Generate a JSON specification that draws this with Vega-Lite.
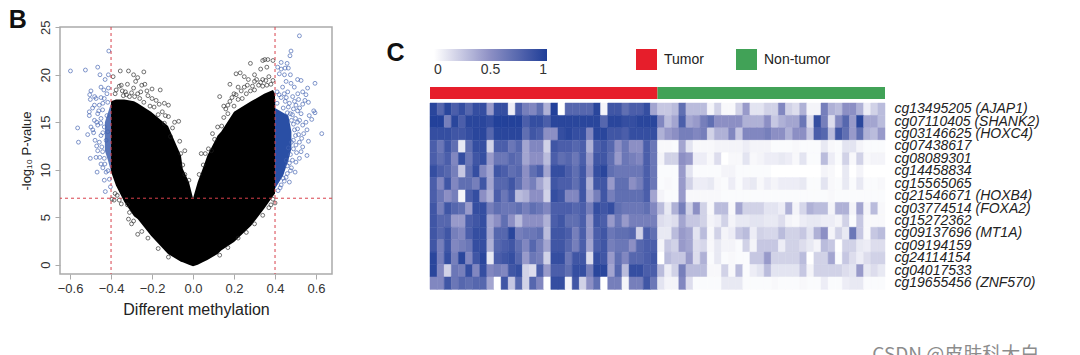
{"$schema":"https://vega.github.io/schema/vega-lite/v6.json","background":"white","padding":{"left":7,"top":6,"right":0,"bottom":0},"config":{"font":"Liberation Sans","view":{"stroke":null},"concat":{"spacing":0}},"title":{"text":"CSDN @皮肤科大白","orient":"bottom","anchor":"end","color":"#8c8c8c","fontSize":19,"font":"Noto Sans CJK SC","fontWeight":"normal","offset":28},
"bounds":"flush","spacing":98,
"datasets":{
"hull":[{"x":-0.4,"lo":9.8,"hi":17.2},{"x":-0.376,"lo":8.35,"hi":17.4},{"x":-0.335,"lo":6.6,"hi":17.4},{"x":-0.288,"lo":5.1,"hi":17.2},{"x":-0.27,"lo":4.8,"hi":17},{"x":-0.205,"lo":3.06,"hi":16.1},{"x":-0.122,"lo":1.13,"hi":14.6},{"x":-0.059,"lo":0.3,"hi":11.5},{"x":-0.05,"lo":0.25,"hi":10.1},{"x":-0.02,"lo":0,"hi":8.7},{"x":0,"lo":-0.17,"hi":7},{"x":0.023,"lo":0,"hi":8.7},{"x":0.047,"lo":0.25,"hi":10.1},{"x":0.07,"lo":0.5,"hi":11.5},{"x":0.12,"lo":1.13,"hi":13.6},{"x":0.137,"lo":1.5,"hi":14},{"x":0.2,"lo":2.4,"hi":16.1},{"x":0.283,"lo":4.1,"hi":17.2},{"x":0.347,"lo":5.9,"hi":18},{"x":0.39,"lo":7.2,"hi":18.4},{"x":0.4,"lo":7.5,"hi":18}],
"blueRight":[{"x":0.4,"lo":8,"hi":16.5},{"x":0.44,"lo":9.4,"hi":16},{"x":0.465,"lo":11,"hi":15.7},{"x":0.48,"lo":12.2,"hi":14}],
"blueLeft":[{"x":-0.43,"lo":12,"hi":15},{"x":-0.415,"lo":11,"hi":16},{"x":-0.4,"lo":9.8,"hi":17}],
"cuts":[{"xcut":-0.4},{"xcut":0.4}],
"blue":[{"x":0.519,"y":24.1},{"x":0.478,"y":22.5},{"x":0.473,"y":22},{"x":0.43,"y":21.3},{"x":0.459,"y":21.2},{"x":0.413,"y":20.8},{"x":0.43,"y":20.6},{"x":0.449,"y":20.7},{"x":0.465,"y":20.7},{"x":0.421,"y":20.1},{"x":0.446,"y":20},{"x":0.475,"y":20},{"x":0.51,"y":19.5},{"x":0.527,"y":19.4},{"x":0.595,"y":19.1},{"x":0.454,"y":19.3},{"x":0.478,"y":19.1},{"x":0.494,"y":18.7},{"x":0.559,"y":18.6},{"x":0.535,"y":18.2},{"x":0.437,"y":18.7},{"x":0.462,"y":18.2},{"x":0.511,"y":18},{"x":0.551,"y":17.9},{"x":0.486,"y":17.7},{"x":0.546,"y":17.3},{"x":0.563,"y":17.1},{"x":0.535,"y":16.9},{"x":0.502,"y":16.8},{"x":0.589,"y":16.2},{"x":0.595,"y":16},{"x":0.567,"y":15.7},{"x":0.527,"y":15.9},{"x":0.579,"y":15.3},{"x":0.551,"y":15},{"x":0.535,"y":14.7},{"x":0.556,"y":14.2},{"x":0.628,"y":13.8},{"x":0.54,"y":13.8},{"x":0.563,"y":13},{"x":0.519,"y":12.9},{"x":0.502,"y":12.6},{"x":0.535,"y":12.4},{"x":0.527,"y":11.9},{"x":0.556,"y":11.5},{"x":0.519,"y":11.2},{"x":0.502,"y":10.8},{"x":0.498,"y":9.75},{"x":0.475,"y":9.9},{"x":0.47,"y":8.7},{"x":0.454,"y":9.2},{"x":0.41,"y":18.2},{"x":0.43,"y":17.6},{"x":0.45,"y":17.2},{"x":0.47,"y":17},{"x":0.49,"y":16.4},{"x":0.51,"y":16.2},{"x":0.475,"y":15.9},{"x":0.5,"y":15.4},{"x":0.52,"y":15.2},{"x":0.49,"y":14.8},{"x":0.51,"y":14.3},{"x":0.53,"y":13.3},{"x":0.5,"y":13.6},{"x":0.48,"y":12.9},{"x":0.49,"y":12.2},{"x":0.475,"y":11.6},{"x":0.485,"y":11},{"x":0.46,"y":10.4},{"x":0.47,"y":10.7},{"x":0.445,"y":8.8},{"x":0.43,"y":8.4},{"x":0.415,"y":7.8},{"x":0.44,"y":16.5},{"x":0.46,"y":16},{"x":0.48,"y":15.2},{"x":0.465,"y":12.3},{"x":0.455,"y":11},{"x":0.41,"y":17},{"x":0.42,"y":17.9},{"x":0.445,"y":18},{"x":0.455,"y":17.6},{"x":0.465,"y":16.6},{"x":0.495,"y":17.2},{"x":0.515,"y":17.4},{"x":0.52,"y":16.5},{"x":0.485,"y":15.8},{"x":0.51,"y":15},{"x":0.495,"y":14.2},{"x":0.515,"y":13.7},{"x":0.49,"y":13.1},{"x":0.505,"y":11.8},{"x":0.48,"y":10.2},{"x":0.46,"y":9.6},{"x":0.44,"y":9.1},{"x":0.425,"y":8.1},{"x":-0.411,"y":22.5},{"x":-0.598,"y":20.4},{"x":-0.525,"y":20.5},{"x":-0.465,"y":20.8},{"x":-0.454,"y":20},{"x":-0.429,"y":19.5},{"x":-0.413,"y":20},{"x":-0.449,"y":18.7},{"x":-0.413,"y":18.6},{"x":-0.498,"y":18.3},{"x":-0.504,"y":17.9},{"x":-0.473,"y":17.5},{"x":-0.449,"y":17.6},{"x":-0.501,"y":17.4},{"x":-0.433,"y":17.5},{"x":-0.481,"y":16.8},{"x":-0.457,"y":16.8},{"x":-0.416,"y":17.1},{"x":-0.506,"y":16.1},{"x":-0.465,"y":15.9},{"x":-0.441,"y":16.3},{"x":-0.506,"y":15.7},{"x":-0.481,"y":15.2},{"x":-0.449,"y":15.4},{"x":-0.42,"y":15.7},{"x":-0.563,"y":14.4},{"x":-0.498,"y":14.5},{"x":-0.465,"y":14.7},{"x":-0.433,"y":14.5},{"x":-0.489,"y":14.2},{"x":-0.514,"y":13.7},{"x":-0.449,"y":13.6},{"x":-0.416,"y":14},{"x":-0.559,"y":12.9},{"x":-0.478,"y":13.1},{"x":-0.457,"y":12.9},{"x":-0.424,"y":13.1},{"x":-0.465,"y":12},{"x":-0.441,"y":11.9},{"x":-0.501,"y":11.2},{"x":-0.473,"y":11.3},{"x":-0.433,"y":11.2},{"x":-0.449,"y":10.6},{"x":-0.468,"y":9.75},{"x":-0.424,"y":9.75},{"x":-0.433,"y":8.9},{"x":-0.408,"y":9},{"x":-0.428,"y":7.7},{"x":-0.403,"y":8.2},{"x":-0.44,"y":17},{"x":-0.46,"y":16.2},{"x":-0.49,"y":16.5},{"x":-0.47,"y":15},{"x":-0.485,"y":13.9},{"x":-0.47,"y":12.5},{"x":-0.455,"y":11.3},{"x":-0.44,"y":10.2},{"x":-0.42,"y":18},{"x":-0.435,"y":18.4},{"x":-0.48,"y":17.7},{"x":-0.45,"y":14.9},{"x":-0.44,"y":13.9},{"x":-0.445,"y":12.4},{"x":-0.43,"y":10.6},{"x":-0.415,"y":9.9}],
"black":[{"x":-0.39,"y":19.8},{"x":-0.355,"y":20.4},{"x":-0.315,"y":20.4},{"x":-0.29,"y":20},{"x":-0.27,"y":19.7},{"x":-0.24,"y":20.3},{"x":-0.235,"y":19},{"x":-0.36,"y":18.8},{"x":-0.32,"y":19},{"x":-0.28,"y":19.3},{"x":-0.25,"y":18.9},{"x":-0.2,"y":18.5},{"x":-0.16,"y":18.4},{"x":-0.33,"y":18.2},{"x":-0.3,"y":18.1},{"x":-0.27,"y":18},{"x":-0.22,"y":17.8},{"x":-0.18,"y":17.3},{"x":-0.14,"y":17},{"x":-0.12,"y":16.8},{"x":-0.19,"y":16.6},{"x":-0.15,"y":16.1},{"x":-0.12,"y":15.6},{"x":-0.09,"y":15},{"x":-0.07,"y":15.1},{"x":-0.1,"y":14.4},{"x":-0.065,"y":13},{"x":-0.04,"y":12},{"x":-0.06,"y":11.7},{"x":-0.05,"y":10.5},{"x":-0.04,"y":9.5},{"x":-0.02,"y":8.9},{"x":-0.38,"y":18},{"x":-0.35,"y":18.9},{"x":-0.34,"y":17.8},{"x":-0.31,"y":17.7},{"x":-0.26,"y":17.5},{"x":-0.24,"y":17.1},{"x":-0.21,"y":16.7},{"x":-0.17,"y":15.8},{"x":-0.14,"y":14.9},{"x":-0.11,"y":13.5},{"x":-0.375,"y":18.4},{"x":-0.345,"y":18.3},{"x":-0.325,"y":17.9},{"x":-0.29,"y":18.6},{"x":-0.285,"y":17.7},{"x":-0.255,"y":18.2},{"x":-0.225,"y":18.3},{"x":-0.2,"y":17.5},{"x":-0.165,"y":16.9},{"x":-0.135,"y":15.7},{"x":0.03,"y":9.5},{"x":0.05,"y":10.5},{"x":0.04,"y":11.7},{"x":0.06,"y":11.7},{"x":0.09,"y":12},{"x":0.095,"y":13.8},{"x":0.12,"y":14.5},{"x":0.14,"y":14.6},{"x":0.13,"y":17.7},{"x":0.15,"y":16.7},{"x":0.17,"y":16.8},{"x":0.18,"y":19},{"x":0.21,"y":20.1},{"x":0.23,"y":20.2},{"x":0.25,"y":19.8},{"x":0.28,"y":21.2},{"x":0.3,"y":20},{"x":0.33,"y":20.6},{"x":0.34,"y":21.5},{"x":0.35,"y":21.6},{"x":0.36,"y":20.8},{"x":0.365,"y":21.6},{"x":0.39,"y":21.5},{"x":0.39,"y":19.4},{"x":0.37,"y":19.8},{"x":0.34,"y":19.5},{"x":0.3,"y":19.3},{"x":0.27,"y":19.5},{"x":0.25,"y":18.7},{"x":0.22,"y":18.7},{"x":0.2,"y":18},{"x":0.18,"y":17.2},{"x":0.16,"y":16.4},{"x":0.32,"y":18.9},{"x":0.38,"y":19},{"x":0.28,"y":18.3},{"x":0.24,"y":17.5},{"x":0.36,"y":18.9},{"x":0.26,"y":18},{"x":0.3,"y":18.4},{"x":0.34,"y":18.8},{"x":0.22,"y":17.4},{"x":0.2,"y":16.7},{"x":0.15,"y":15.5},{"x":0.17,"y":15.9},{"x":0.105,"y":13.2},{"x":0.075,"y":12.2},{"x":0.19,"y":17.6},{"x":0.21,"y":17.9},{"x":0.235,"y":18.3},{"x":0.265,"y":18.9},{"x":0.29,"y":18.8},{"x":0.31,"y":19.5},{"x":0.33,"y":19.2},{"x":0.355,"y":19.4},{"x":-0.395,"y":6.9},{"x":-0.385,"y":6.8},{"x":-0.36,"y":6.8},{"x":-0.37,"y":7.3},{"x":-0.35,"y":6.4},{"x":-0.32,"y":6.3},{"x":-0.31,"y":5.5},{"x":-0.315,"y":4.8},{"x":-0.3,"y":4.3},{"x":-0.29,"y":4.6},{"x":-0.27,"y":3.2},{"x":-0.25,"y":3.5},{"x":-0.38,"y":7.5},{"x":-0.22,"y":2.8},{"x":-0.17,"y":1.7},{"x":-0.12,"y":0.8},{"x":0.13,"y":1},{"x":0.17,"y":1.8},{"x":0.22,"y":2.8},{"x":0.26,"y":3.4},{"x":0.3,"y":4.3},{"x":0.34,"y":5.2},{"x":0.37,"y":6},{"x":0.38,"y":6.3},{"x":0.4,"y":6.5},{"x":0.39,"y":6.9}],
"genes":[{"r":1,"probe":"cg13495205 (AJAP1)"},{"r":2,"probe":"cg07110405 (SHANK2)"},{"r":3,"probe":"cg03146625 (HOXC4)"},{"r":4,"probe":"cg07438617"},{"r":5,"probe":"cg08089301"},{"r":6,"probe":"cg14458834"},{"r":7,"probe":"cg15565065"},{"r":8,"probe":"cg21546671 (HOXB4)"},{"r":9,"probe":"cg03774514 (FOXA2)"},{"r":10,"probe":"cg15272362"},{"r":11,"probe":"cg09137696 (MT1A)"},{"r":12,"probe":"cg09194159"},{"r":13,"probe":"cg24114154"},{"r":14,"probe":"cg04017533"},{"r":15,"probe":"cg19655456 (ZNF570)"}]
},
"hconcat":[
{"width":272,"height":247,"layer":[
{"data":{"name":"hull"},"mark":{"type":"area","color":"#000000","orient":"vertical"},"encoding":{"x":{"field":"x","type":"quantitative","title":"Different methylation","scale":{"domain":[-0.649,0.678],"nice":false,"zero":false},"axis":{"values":[-0.6,-0.4,-0.2,0,0.2,0.4,0.6],"format":".1f","title":"Different methylation","titleFontSize":16,"titleFontWeight":"normal","titleColor":"#222","titlePadding":6,"labelFontSize":13,"labelColor":"#333","labelPadding":3,"tickColor":"#aaa","tickSize":5,"domain":false,"grid":false}},"y":{"field":"lo","type":"quantitative","title":"-log₁₀ P-value","scale":{"domain":[-0.98,25.03],"nice":false,"zero":false},"axis":{"values":[0,5,10,15,20,25],"title":"-log₁₀ P-value","titleFontSize":13,"titleFontWeight":"normal","titleColor":"#222","titlePadding":6,"labelFontSize":13,"labelColor":"#333","labelAngle":-90,"labelPadding":3,"tickColor":"#aaa","tickSize":5,"domain":false,"grid":false}},"y2":{"field":"hi"}}},
{"data":{"name":"blueRight"},"mark":{"type":"area","color":"#2a4fa5","orient":"vertical"},"encoding":{"x":{"field":"x","type":"quantitative","title":"Different methylation"},"y":{"field":"lo","type":"quantitative","title":"-log₁₀ P-value"},"y2":{"field":"hi"}}},
{"data":{"name":"blueLeft"},"mark":{"type":"area","color":"#3d5fae","orient":"vertical","opacity":0.85},"encoding":{"x":{"field":"x","type":"quantitative","title":"Different methylation"},"y":{"field":"lo","type":"quantitative","title":"-log₁₀ P-value"},"y2":{"field":"hi"}}},
{"data":{"name":"blue"},"mark":{"type":"point","filled":false,"color":"#4565b2","size":15,"strokeWidth":0.8,"opacity":0.85},"encoding":{"x":{"field":"x","type":"quantitative","title":"Different methylation"},"y":{"field":"y","type":"quantitative","title":"-log₁₀ P-value"}}},
{"data":{"name":"black"},"mark":{"type":"point","filled":false,"color":"#222222","size":15,"strokeWidth":0.8,"opacity":0.8},"encoding":{"x":{"field":"x","type":"quantitative","title":"Different methylation"},"y":{"field":"y","type":"quantitative","title":"-log₁₀ P-value"}}},
{"data":{"name":"cuts"},"mark":{"type":"rule","color":"#d8404c","strokeDash":[3,3],"strokeWidth":1},"encoding":{"x":{"field":"xcut","type":"quantitative","title":"Different methylation"}}},
{"data":{"values":[{"ycut":7}]},"mark":{"type":"rule","color":"#d8404c","strokeDash":[3,3],"strokeWidth":1},"encoding":{"y":{"field":"ycut","type":"quantitative","title":"-log₁₀ P-value"}}},
{"data":{"values":[{"label":"B"}]},"mark":{"type":"text","fontSize":25,"fontWeight":"bold","color":"#111"},"encoding":{"text":{"field":"label"},"x":{"datum":-0.855,"type":"quantitative","title":"Different methylation"},"y":{"datum":25.8,"type":"quantitative","title":"-log₁₀ P-value"}}}
],"view":{"stroke":"#aaaaaa","strokeWidth":1.5}},
{"bounds":"flush","spacing":4,"vconcat":[
{"width":455,"height":72,"layer":[
{"data":{"values":[{"c":"a","group":"Tumor"},{"c":"b","group":"Non-tumor"}]},"mark":{"type":"rect"},"encoding":{"x":{"field":"c","type":"ordinal","axis":null,"scale":{"paddingInner":0,"paddingOuter":0}},"y":{"datum":0,"type":"quantitative","scale":{"domain":[0,72]},"axis":null},"y2":{"datum":12},"color":{"field":"group","type":"nominal","scale":{"domain":["Tumor","Non-tumor"],"range":["#e61e2b","#41a257"]},"legend":{"title":null,"orient":"none","legendX":206,"legendY":22,"direction":"horizontal","columns":2,"symbolType":"square","symbolSize":441,"symbolStrokeWidth":0,"symbolOpacity":1,"labelFontSize":14,"labelColor":"#222","labelOffset":7,"columnPadding":32}}}},
{"data":{"values":[{"label":"C"}]},"mark":{"type":"text","fontSize":25,"fontWeight":"bold","color":"#111","dx":-262},"encoding":{"text":{"field":"label"},"y":{"datum":46,"type":"quantitative","scale":{"domain":[0,72]},"axis":null}}}
]},
{"width":455,"height":186.4,"data":{"values":[
{"r":1,"c":1,"v":0.95},{"r":1,"c":2,"v":0.75},{"r":1,"c":3,"v":0.95},{"r":1,"c":4,"v":0.8},{"r":1,"c":5,"v":0.9},{"r":1,"c":6,"v":0.75},{"r":1,"c":7,"v":0.9},{"r":1,"c":8,"v":0.9},{"r":1,"c":9,"v":0.45},{"r":1,"c":10,"v":0.9},{"r":1,"c":11,"v":0.9},{"r":1,"c":12,"v":0.08},{"r":1,"c":13,"v":0.8},{"r":1,"c":14,"v":0.6},{"r":1,"c":15,"v":0.55},{"r":1,"c":16,"v":0.7},{"r":1,"c":17,"v":0.35},{"r":1,"c":18,"v":0.98},{"r":1,"c":19,"v":0},{"r":1,"c":20,"v":0.75},{"r":1,"c":21,"v":0.75},{"r":1,"c":22,"v":0.75},{"r":1,"c":23,"v":0.75},{"r":1,"c":24,"v":0.95},{"r":1,"c":25,"v":0.05},{"r":1,"c":26,"v":0.85},{"r":1,"c":27,"v":0.85},{"r":1,"c":28,"v":0.7},{"r":1,"c":29,"v":0.8},{"r":1,"c":30,"v":0.8},{"r":1,"c":31,"v":0.9},{"r":1,"c":32,"v":0.4},
{"r":1,"c":33,"v":0.25},{"r":1,"c":34,"v":0.25},{"r":1,"c":35,"v":0.3},{"r":1,"c":36,"v":0.7},{"r":1,"c":37,"v":0.3},{"r":1,"c":38,"v":0.3},{"r":1,"c":39,"v":0.3},{"r":1,"c":40,"v":0.05},{"r":1,"c":41,"v":0.2},{"r":1,"c":42,"v":0.03},{"r":1,"c":43,"v":0.03},{"r":1,"c":44,"v":0.2},{"r":1,"c":45,"v":0.45},{"r":1,"c":46,"v":0.12},{"r":1,"c":47,"v":0.12},{"r":1,"c":48,"v":0.2},{"r":1,"c":49,"v":0.2},{"r":1,"c":50,"v":0.55},{"r":1,"c":51,"v":0.2},{"r":1,"c":52,"v":0.15},{"r":1,"c":53,"v":0.35},{"r":1,"c":54,"v":0.05},{"r":1,"c":55,"v":0.05},{"r":1,"c":56,"v":0.6},{"r":1,"c":57,"v":0.35},{"r":1,"c":58,"v":0.3},{"r":1,"c":59,"v":0.5},{"r":1,"c":60,"v":0.5},{"r":1,"c":61,"v":0.35},{"r":1,"c":62,"v":0.08},{"r":1,"c":63,"v":0.2},{"r":1,"c":64,"v":0.3},
{"r":2,"c":1,"v":0.98},{"r":2,"c":2,"v":0.98},{"r":2,"c":3,"v":0.6},{"r":2,"c":4,"v":0.95},{"r":2,"c":5,"v":0.8},{"r":2,"c":6,"v":0.95},{"r":2,"c":7,"v":0.95},{"r":2,"c":8,"v":0.95},{"r":2,"c":9,"v":0.9},{"r":2,"c":10,"v":0.98},{"r":2,"c":11,"v":0.98},{"r":2,"c":12,"v":0.98},{"r":2,"c":13,"v":0.98},{"r":2,"c":14,"v":0.8},{"r":2,"c":15,"v":0.9},{"r":2,"c":16,"v":0.9},{"r":2,"c":17,"v":0.8},{"r":2,"c":18,"v":0.95},{"r":2,"c":19,"v":0.95},{"r":2,"c":20,"v":0.95},{"r":2,"c":21,"v":0.95},{"r":2,"c":22,"v":0.95},{"r":2,"c":23,"v":0.95},{"r":2,"c":24,"v":0.95},{"r":2,"c":25,"v":0.75},{"r":2,"c":26,"v":0.95},{"r":2,"c":27,"v":0.95},{"r":2,"c":28,"v":0.9},{"r":2,"c":29,"v":0.9},{"r":2,"c":30,"v":0.95},{"r":2,"c":31,"v":0.95},{"r":2,"c":32,"v":0.95},
{"r":2,"c":33,"v":0.55},{"r":2,"c":34,"v":0.3},{"r":2,"c":35,"v":0.4},{"r":2,"c":36,"v":0.8},{"r":2,"c":37,"v":0.4},{"r":2,"c":38,"v":0.45},{"r":2,"c":39,"v":0.6},{"r":2,"c":40,"v":0.7},{"r":2,"c":41,"v":0.5},{"r":2,"c":42,"v":0.5},{"r":2,"c":43,"v":0.5},{"r":2,"c":44,"v":0.5},{"r":2,"c":45,"v":0.35},{"r":2,"c":46,"v":0.35},{"r":2,"c":47,"v":0.35},{"r":2,"c":48,"v":0.5},{"r":2,"c":49,"v":0.25},{"r":2,"c":50,"v":0.35},{"r":2,"c":51,"v":0.4},{"r":2,"c":52,"v":0.4},{"r":2,"c":53,"v":0.65},{"r":2,"c":54,"v":0.15},{"r":2,"c":55,"v":0.9},{"r":2,"c":56,"v":0.6},{"r":2,"c":57,"v":0.15},{"r":2,"c":58,"v":0.55},{"r":2,"c":59,"v":0.75},{"r":2,"c":60,"v":0.45},{"r":2,"c":61,"v":0.95},{"r":2,"c":62,"v":0.4},{"r":2,"c":63,"v":0.4},{"r":2,"c":64,"v":0.3},
{"r":3,"c":1,"v":0.9},{"r":3,"c":2,"v":0.9},{"r":3,"c":3,"v":0.9},{"r":3,"c":4,"v":0.85},{"r":3,"c":5,"v":0.85},{"r":3,"c":6,"v":0.9},{"r":3,"c":7,"v":0.95},{"r":3,"c":8,"v":0.95},{"r":3,"c":9,"v":0.75},{"r":3,"c":10,"v":0.95},{"r":3,"c":11,"v":0.95},{"r":3,"c":12,"v":0.95},{"r":3,"c":13,"v":0.95},{"r":3,"c":14,"v":0.7},{"r":3,"c":15,"v":0.85},{"r":3,"c":16,"v":0.8},{"r":3,"c":17,"v":0.5},{"r":3,"c":18,"v":0.5},{"r":3,"c":19,"v":0.9},{"r":3,"c":20,"v":0.95},{"r":3,"c":21,"v":0.9},{"r":3,"c":22,"v":0.9},{"r":3,"c":23,"v":0.55},{"r":3,"c":24,"v":0.95},{"r":3,"c":25,"v":0.95},{"r":3,"c":26,"v":0.85},{"r":3,"c":27,"v":0.85},{"r":3,"c":28,"v":0.8},{"r":3,"c":29,"v":0.9},{"r":3,"c":30,"v":0.9},{"r":3,"c":31,"v":0.9},{"r":3,"c":32,"v":0.9},
{"r":3,"c":33,"v":0.35},{"r":3,"c":34,"v":0.45},{"r":3,"c":35,"v":0.5},{"r":3,"c":36,"v":0.6},{"r":3,"c":37,"v":0.6},{"r":3,"c":38,"v":0.55},{"r":3,"c":39,"v":0.6},{"r":3,"c":40,"v":0.2},{"r":3,"c":41,"v":0.35},{"r":3,"c":42,"v":0.35},{"r":3,"c":43,"v":0.55},{"r":3,"c":44,"v":0.25},{"r":3,"c":45,"v":0.55},{"r":3,"c":46,"v":0.55},{"r":3,"c":47,"v":0.55},{"r":3,"c":48,"v":0.6},{"r":3,"c":49,"v":0.5},{"r":3,"c":50,"v":0.5},{"r":3,"c":51,"v":0.35},{"r":3,"c":52,"v":0.5},{"r":3,"c":53,"v":0.5},{"r":3,"c":54,"v":0.25},{"r":3,"c":55,"v":0.8},{"r":3,"c":56,"v":0.75},{"r":3,"c":57,"v":0.3},{"r":3,"c":58,"v":0.85},{"r":3,"c":59,"v":0.7},{"r":3,"c":60,"v":0.45},{"r":3,"c":61,"v":0.7},{"r":3,"c":62,"v":0.35},{"r":3,"c":63,"v":0.3},{"r":3,"c":64,"v":0.45},
{"r":4,"c":1,"v":0.8},{"r":4,"c":2,"v":0.65},{"r":4,"c":3,"v":0.85},{"r":4,"c":4,"v":0.7},{"r":4,"c":5,"v":0.1},{"r":4,"c":6,"v":0.7},{"r":4,"c":7,"v":0.9},{"r":4,"c":8,"v":0.9},{"r":4,"c":9,"v":0.2},{"r":4,"c":10,"v":0.8},{"r":4,"c":11,"v":0.8},{"r":4,"c":12,"v":0.65},{"r":4,"c":13,"v":0.75},{"r":4,"c":14,"v":0.4},{"r":4,"c":15,"v":0.55},{"r":4,"c":16,"v":0.55},{"r":4,"c":17,"v":0.2},{"r":4,"c":18,"v":0.85},{"r":4,"c":19,"v":0.8},{"r":4,"c":20,"v":0.8},{"r":4,"c":21,"v":0.75},{"r":4,"c":22,"v":0.8},{"r":4,"c":23,"v":0.35},{"r":4,"c":24,"v":0.8},{"r":4,"c":25,"v":0.85},{"r":4,"c":26,"v":0.75},{"r":4,"c":27,"v":0.5},{"r":4,"c":28,"v":0.65},{"r":4,"c":29,"v":0.5},{"r":4,"c":30,"v":0.5},{"r":4,"c":31,"v":0.8},{"r":4,"c":32,"v":0.65},
{"r":4,"c":33,"v":0.03},{"r":4,"c":34,"v":0.03},{"r":4,"c":35,"v":0.02},{"r":4,"c":36,"v":0.4},{"r":4,"c":37,"v":0.12},{"r":4,"c":38,"v":0.03},{"r":4,"c":39,"v":0.03},{"r":4,"c":40,"v":0.03},{"r":4,"c":41,"v":0.05},{"r":4,"c":42,"v":0.05},{"r":4,"c":43,"v":0.05},{"r":4,"c":44,"v":0.05},{"r":4,"c":45,"v":0.08},{"r":4,"c":46,"v":0.05},{"r":4,"c":47,"v":0.05},{"r":4,"c":48,"v":0.05},{"r":4,"c":49,"v":0.02},{"r":4,"c":50,"v":0.02},{"r":4,"c":51,"v":0.02},{"r":4,"c":52,"v":0.03},{"r":4,"c":53,"v":0.02},{"r":4,"c":54,"v":0.02},{"r":4,"c":55,"v":0.02},{"r":4,"c":56,"v":0.1},{"r":4,"c":57,"v":0.03},{"r":4,"c":58,"v":0.02},{"r":4,"c":59,"v":0.12},{"r":4,"c":60,"v":0.12},{"r":4,"c":61,"v":0.05},{"r":4,"c":62,"v":0.02},{"r":4,"c":63,"v":0.02},{"r":4,"c":64,"v":0.02},
{"r":5,"c":1,"v":0.8},{"r":5,"c":2,"v":0.7},{"r":5,"c":3,"v":0.8},{"r":5,"c":4,"v":0.55},{"r":5,"c":5,"v":0.9},{"r":5,"c":6,"v":0.65},{"r":5,"c":7,"v":0.85},{"r":5,"c":8,"v":0.9},{"r":5,"c":9,"v":0.45},{"r":5,"c":10,"v":0.65},{"r":5,"c":11,"v":0.65},{"r":5,"c":12,"v":0.75},{"r":5,"c":13,"v":0.7},{"r":5,"c":14,"v":0.4},{"r":5,"c":15,"v":0.5},{"r":5,"c":16,"v":0.5},{"r":5,"c":17,"v":0.3},{"r":5,"c":18,"v":0.8},{"r":5,"c":19,"v":0.7},{"r":5,"c":20,"v":0.75},{"r":5,"c":21,"v":0.65},{"r":5,"c":22,"v":0.8},{"r":5,"c":23,"v":0.45},{"r":5,"c":24,"v":0.85},{"r":5,"c":25,"v":0.85},{"r":5,"c":26,"v":0.7},{"r":5,"c":27,"v":0.45},{"r":5,"c":28,"v":0.65},{"r":5,"c":29,"v":0.6},{"r":5,"c":30,"v":0.55},{"r":5,"c":31,"v":0.8},{"r":5,"c":32,"v":0.65},
{"r":5,"c":33,"v":0.05},{"r":5,"c":34,"v":0.2},{"r":5,"c":35,"v":0.2},{"r":5,"c":36,"v":0.5},{"r":5,"c":37,"v":0.45},{"r":5,"c":38,"v":0.08},{"r":5,"c":39,"v":0.08},{"r":5,"c":40,"v":0.03},{"r":5,"c":41,"v":0.15},{"r":5,"c":42,"v":0},{"r":5,"c":43,"v":0.03},{"r":5,"c":44,"v":0.03},{"r":5,"c":45,"v":0.12},{"r":5,"c":46,"v":0.03},{"r":5,"c":47,"v":0.05},{"r":5,"c":48,"v":0.08},{"r":5,"c":49,"v":0.08},{"r":5,"c":50,"v":0.1},{"r":5,"c":51,"v":0.08},{"r":5,"c":52,"v":0.03},{"r":5,"c":53,"v":0.12},{"r":5,"c":54,"v":0.02},{"r":5,"c":55,"v":0.02},{"r":5,"c":56,"v":0.3},{"r":5,"c":57,"v":0.08},{"r":5,"c":58,"v":0.02},{"r":5,"c":59,"v":0.2},{"r":5,"c":60,"v":0.03},{"r":5,"c":61,"v":0.2},{"r":5,"c":62,"v":0.03},{"r":5,"c":63,"v":0.05},{"r":5,"c":64,"v":0.05},
{"r":6,"c":1,"v":0.9},{"r":6,"c":2,"v":0.8},{"r":6,"c":3,"v":0.75},{"r":6,"c":4,"v":0.6},{"r":6,"c":5,"v":0.25},{"r":6,"c":6,"v":0.7},{"r":6,"c":7,"v":0.9},{"r":6,"c":8,"v":0.55},{"r":6,"c":9,"v":0.4},{"r":6,"c":10,"v":0.85},{"r":6,"c":11,"v":0.8},{"r":6,"c":12,"v":0.7},{"r":6,"c":13,"v":0.75},{"r":6,"c":14,"v":0.5},{"r":6,"c":15,"v":0.7},{"r":6,"c":16,"v":0.8},{"r":6,"c":17,"v":0.4},{"r":6,"c":18,"v":0.9},{"r":6,"c":19,"v":0.9},{"r":6,"c":20,"v":0.8},{"r":6,"c":21,"v":0.7},{"r":6,"c":22,"v":0.85},{"r":6,"c":23,"v":0.5},{"r":6,"c":24,"v":0.9},{"r":6,"c":25,"v":0.95},{"r":6,"c":26,"v":0.7},{"r":6,"c":27,"v":0.65},{"r":6,"c":28,"v":0.65},{"r":6,"c":29,"v":0.65},{"r":6,"c":30,"v":0.65},{"r":6,"c":31,"v":0.8},{"r":6,"c":32,"v":0.65},
{"r":6,"c":33,"v":0.02},{"r":6,"c":34,"v":0.02},{"r":6,"c":35,"v":0.02},{"r":6,"c":36,"v":0.45},{"r":6,"c":37,"v":0.12},{"r":6,"c":38,"v":0.02},{"r":6,"c":39,"v":0.02},{"r":6,"c":40,"v":0.02},{"r":6,"c":41,"v":0.02},{"r":6,"c":42,"v":0.05},{"r":6,"c":43,"v":0.05},{"r":6,"c":44,"v":0.02},{"r":6,"c":45,"v":0.02},{"r":6,"c":46,"v":0.02},{"r":6,"c":47,"v":0.02},{"r":6,"c":48,"v":0.02},{"r":6,"c":49,"v":0},{"r":6,"c":50,"v":0},{"r":6,"c":51,"v":0},{"r":6,"c":52,"v":0},{"r":6,"c":53,"v":0},{"r":6,"c":54,"v":0},{"r":6,"c":55,"v":0},{"r":6,"c":56,"v":0.05},{"r":6,"c":57,"v":0.03},{"r":6,"c":58,"v":0},{"r":6,"c":59,"v":0.1},{"r":6,"c":60,"v":0},{"r":6,"c":61,"v":0.05},{"r":6,"c":62,"v":0},{"r":6,"c":63,"v":0},{"r":6,"c":64,"v":0},
{"r":7,"c":1,"v":0.8},{"r":7,"c":2,"v":0.55},{"r":7,"c":3,"v":0.85},{"r":7,"c":4,"v":0.55},{"r":7,"c":5,"v":0.7},{"r":7,"c":6,"v":0.7},{"r":7,"c":7,"v":0.6},{"r":7,"c":8,"v":0.85},{"r":7,"c":9,"v":0.4},{"r":7,"c":10,"v":0.75},{"r":7,"c":11,"v":0.75},{"r":7,"c":12,"v":0.85},{"r":7,"c":13,"v":0.7},{"r":7,"c":14,"v":0.5},{"r":7,"c":15,"v":0.6},{"r":7,"c":16,"v":0.4},{"r":7,"c":17,"v":0.25},{"r":7,"c":18,"v":0.85},{"r":7,"c":19,"v":0.8},{"r":7,"c":20,"v":0.8},{"r":7,"c":21,"v":0.7},{"r":7,"c":22,"v":0.85},{"r":7,"c":23,"v":0.35},{"r":7,"c":24,"v":0.85},{"r":7,"c":25,"v":0.85},{"r":7,"c":26,"v":0.45},{"r":7,"c":27,"v":0.7},{"r":7,"c":28,"v":0.7},{"r":7,"c":29,"v":0.5},{"r":7,"c":30,"v":0.6},{"r":7,"c":31,"v":0.8},{"r":7,"c":32,"v":0.65},
{"r":7,"c":33,"v":0.02},{"r":7,"c":34,"v":0.03},{"r":7,"c":35,"v":0.02},{"r":7,"c":36,"v":0.45},{"r":7,"c":37,"v":0.2},{"r":7,"c":38,"v":0.08},{"r":7,"c":39,"v":0.08},{"r":7,"c":40,"v":0.1},{"r":7,"c":41,"v":0.03},{"r":7,"c":42,"v":0.02},{"r":7,"c":43,"v":0.08},{"r":7,"c":44,"v":0.02},{"r":7,"c":45,"v":0.08},{"r":7,"c":46,"v":0.1},{"r":7,"c":47,"v":0.03},{"r":7,"c":48,"v":0.08},{"r":7,"c":49,"v":0.05},{"r":7,"c":50,"v":0.08},{"r":7,"c":51,"v":0.08},{"r":7,"c":52,"v":0.08},{"r":7,"c":53,"v":0.1},{"r":7,"c":54,"v":0.02},{"r":7,"c":55,"v":0.02},{"r":7,"c":56,"v":0.12},{"r":7,"c":57,"v":0.03},{"r":7,"c":58,"v":0.02},{"r":7,"c":59,"v":0.1},{"r":7,"c":60,"v":0.02},{"r":7,"c":61,"v":0.1},{"r":7,"c":62,"v":0.02},{"r":7,"c":63,"v":0.02},{"r":7,"c":64,"v":0.03},
{"r":8,"c":1,"v":0.8},{"r":8,"c":2,"v":0.65},{"r":8,"c":3,"v":0.5},{"r":8,"c":4,"v":0.6},{"r":8,"c":5,"v":0.05},{"r":8,"c":6,"v":0.8},{"r":8,"c":7,"v":0.9},{"r":8,"c":8,"v":0.5},{"r":8,"c":9,"v":0.35},{"r":8,"c":10,"v":0.8},{"r":8,"c":11,"v":0.65},{"r":8,"c":12,"v":0.8},{"r":8,"c":13,"v":0.3},{"r":8,"c":14,"v":0.35},{"r":8,"c":15,"v":0.5},{"r":8,"c":16,"v":0.5},{"r":8,"c":17,"v":0.2},{"r":8,"c":18,"v":0.9},{"r":8,"c":19,"v":0.85},{"r":8,"c":20,"v":0.55},{"r":8,"c":21,"v":0.55},{"r":8,"c":22,"v":0.85},{"r":8,"c":23,"v":0.4},{"r":8,"c":24,"v":0.6},{"r":8,"c":25,"v":0.85},{"r":8,"c":26,"v":0.6},{"r":8,"c":27,"v":0.7},{"r":8,"c":28,"v":0.7},{"r":8,"c":29,"v":0.7},{"r":8,"c":30,"v":0.7},{"r":8,"c":31,"v":0.8},{"r":8,"c":32,"v":0.4},
{"r":8,"c":33,"v":0.05},{"r":8,"c":34,"v":0.02},{"r":8,"c":35,"v":0.02},{"r":8,"c":36,"v":0.45},{"r":8,"c":37,"v":0.03},{"r":8,"c":38,"v":0.03},{"r":8,"c":39,"v":0.03},{"r":8,"c":40,"v":0.03},{"r":8,"c":41,"v":0.03},{"r":8,"c":42,"v":0.02},{"r":8,"c":43,"v":0.02},{"r":8,"c":44,"v":0.02},{"r":8,"c":45,"v":0.02},{"r":8,"c":46,"v":0.02},{"r":8,"c":47,"v":0.02},{"r":8,"c":48,"v":0.02},{"r":8,"c":49,"v":0.02},{"r":8,"c":50,"v":0.02},{"r":8,"c":51,"v":0.02},{"r":8,"c":52,"v":0.02},{"r":8,"c":53,"v":0.02},{"r":8,"c":54,"v":0.02},{"r":8,"c":55,"v":0.02},{"r":8,"c":56,"v":0.02},{"r":8,"c":57,"v":0.03},{"r":8,"c":58,"v":0.02},{"r":8,"c":59,"v":0.02},{"r":8,"c":60,"v":0.02},{"r":8,"c":61,"v":0.02},{"r":8,"c":62,"v":0.02},{"r":8,"c":63,"v":0.02},{"r":8,"c":64,"v":0.02},
{"r":9,"c":1,"v":0.85},{"r":9,"c":2,"v":0.6},{"r":9,"c":3,"v":0.85},{"r":9,"c":4,"v":0.75},{"r":9,"c":5,"v":0.7},{"r":9,"c":6,"v":0.45},{"r":9,"c":7,"v":0.9},{"r":9,"c":8,"v":0.9},{"r":9,"c":9,"v":0.6},{"r":9,"c":10,"v":0.7},{"r":9,"c":11,"v":0.65},{"r":9,"c":12,"v":0.65},{"r":9,"c":13,"v":0.7},{"r":9,"c":14,"v":0.6},{"r":9,"c":15,"v":0.7},{"r":9,"c":16,"v":0.65},{"r":9,"c":17,"v":0.55},{"r":9,"c":18,"v":0.8},{"r":9,"c":19,"v":0.8},{"r":9,"c":20,"v":0.8},{"r":9,"c":21,"v":0.75},{"r":9,"c":22,"v":0.8},{"r":9,"c":23,"v":0.6},{"r":9,"c":24,"v":0.9},{"r":9,"c":25,"v":0.85},{"r":9,"c":26,"v":0.9},{"r":9,"c":27,"v":0.7},{"r":9,"c":28,"v":0.65},{"r":9,"c":29,"v":0.65},{"r":9,"c":30,"v":0.65},{"r":9,"c":31,"v":0.7},{"r":9,"c":32,"v":0.55},
{"r":9,"c":33,"v":0.3},{"r":9,"c":34,"v":0.1},{"r":9,"c":35,"v":0.35},{"r":9,"c":36,"v":0.6},{"r":9,"c":37,"v":0.2},{"r":9,"c":38,"v":0.5},{"r":9,"c":39,"v":0.2},{"r":9,"c":40,"v":0.03},{"r":9,"c":41,"v":0.3},{"r":9,"c":42,"v":0.3},{"r":9,"c":43,"v":0.03},{"r":9,"c":44,"v":0.4},{"r":9,"c":45,"v":0.2},{"r":9,"c":46,"v":0.2},{"r":9,"c":47,"v":0.2},{"r":9,"c":48,"v":0.12},{"r":9,"c":49,"v":0.12},{"r":9,"c":50,"v":0.08},{"r":9,"c":51,"v":0.35},{"r":9,"c":52,"v":0.05},{"r":9,"c":53,"v":0.18},{"r":9,"c":54,"v":0.35},{"r":9,"c":55,"v":0.3},{"r":9,"c":56,"v":0.3},{"r":9,"c":57,"v":0.05},{"r":9,"c":58,"v":0.35},{"r":9,"c":59,"v":0.35},{"r":9,"c":60,"v":0.05},{"r":9,"c":61,"v":0.4},{"r":9,"c":62,"v":0.05},{"r":9,"c":63,"v":0.3},{"r":9,"c":64,"v":0.03},
{"r":10,"c":1,"v":0.85},{"r":10,"c":2,"v":0.75},{"r":10,"c":3,"v":0.75},{"r":10,"c":4,"v":0.45},{"r":10,"c":5,"v":0.45},{"r":10,"c":6,"v":0.8},{"r":10,"c":7,"v":0.85},{"r":10,"c":8,"v":0.9},{"r":10,"c":9,"v":0.4},{"r":10,"c":10,"v":0.5},{"r":10,"c":11,"v":0.7},{"r":10,"c":12,"v":0.5},{"r":10,"c":13,"v":0.3},{"r":10,"c":14,"v":0.5},{"r":10,"c":15,"v":0.5},{"r":10,"c":16,"v":0.5},{"r":10,"c":17,"v":0.35},{"r":10,"c":18,"v":0.8},{"r":10,"c":19,"v":0.85},{"r":10,"c":20,"v":0.7},{"r":10,"c":21,"v":0.7},{"r":10,"c":22,"v":0.8},{"r":10,"c":23,"v":0.45},{"r":10,"c":24,"v":0.85},{"r":10,"c":25,"v":0.8},{"r":10,"c":26,"v":0.45},{"r":10,"c":27,"v":0.65},{"r":10,"c":28,"v":0.45},{"r":10,"c":29,"v":0.6},{"r":10,"c":30,"v":0.6},{"r":10,"c":31,"v":0.6},{"r":10,"c":32,"v":0.6},
{"r":10,"c":33,"v":0.15},{"r":10,"c":34,"v":0.12},{"r":10,"c":35,"v":0.15},{"r":10,"c":36,"v":0.4},{"r":10,"c":37,"v":0.25},{"r":10,"c":38,"v":0.25},{"r":10,"c":39,"v":0.2},{"r":10,"c":40,"v":0.05},{"r":10,"c":41,"v":0.08},{"r":10,"c":42,"v":0.2},{"r":10,"c":43,"v":0.05},{"r":10,"c":44,"v":0.1},{"r":10,"c":45,"v":0.1},{"r":10,"c":46,"v":0.12},{"r":10,"c":47,"v":0.12},{"r":10,"c":48,"v":0.1},{"r":10,"c":49,"v":0.1},{"r":10,"c":50,"v":0.15},{"r":10,"c":51,"v":0.05},{"r":10,"c":52,"v":0.03},{"r":10,"c":53,"v":0.08},{"r":10,"c":54,"v":0.1},{"r":10,"c":55,"v":0.1},{"r":10,"c":56,"v":0.08},{"r":10,"c":57,"v":0.08},{"r":10,"c":58,"v":0.05},{"r":10,"c":59,"v":0.2},{"r":10,"c":60,"v":0.02},{"r":10,"c":61,"v":0.25},{"r":10,"c":62,"v":0.03},{"r":10,"c":63,"v":0.03},{"r":10,"c":64,"v":0.03},
{"r":11,"c":1,"v":0.85},{"r":11,"c":2,"v":0.75},{"r":11,"c":3,"v":0.85},{"r":11,"c":4,"v":0.6},{"r":11,"c":5,"v":0.55},{"r":11,"c":6,"v":0.8},{"r":11,"c":7,"v":0.9},{"r":11,"c":8,"v":0.9},{"r":11,"c":9,"v":0.4},{"r":11,"c":10,"v":0.75},{"r":11,"c":11,"v":0.75},{"r":11,"c":12,"v":0.95},{"r":11,"c":13,"v":0.6},{"r":11,"c":14,"v":0.65},{"r":11,"c":15,"v":0.65},{"r":11,"c":16,"v":0.7},{"r":11,"c":17,"v":0.3},{"r":11,"c":18,"v":0.85},{"r":11,"c":19,"v":0.85},{"r":11,"c":20,"v":0.8},{"r":11,"c":21,"v":0.6},{"r":11,"c":22,"v":0.8},{"r":11,"c":23,"v":0.45},{"r":11,"c":24,"v":0.8},{"r":11,"c":25,"v":0.85},{"r":11,"c":26,"v":0.65},{"r":11,"c":27,"v":0.7},{"r":11,"c":28,"v":0.7},{"r":11,"c":29,"v":0.75},{"r":11,"c":30,"v":0.2},{"r":11,"c":31,"v":0.8},{"r":11,"c":32,"v":0.7},
{"r":11,"c":33,"v":0.1},{"r":11,"c":34,"v":0.1},{"r":11,"c":35,"v":0.3},{"r":11,"c":36,"v":0.45},{"r":11,"c":37,"v":0.4},{"r":11,"c":38,"v":0.12},{"r":11,"c":39,"v":0.3},{"r":11,"c":40,"v":0.03},{"r":11,"c":41,"v":0.2},{"r":11,"c":42,"v":0.05},{"r":11,"c":43,"v":0.08},{"r":11,"c":44,"v":0.25},{"r":11,"c":45,"v":0.3},{"r":11,"c":46,"v":0.08},{"r":11,"c":47,"v":0.2},{"r":11,"c":48,"v":0.18},{"r":11,"c":49,"v":0.18},{"r":11,"c":50,"v":0.3},{"r":11,"c":51,"v":0.2},{"r":11,"c":52,"v":0.2},{"r":11,"c":53,"v":0.25},{"r":11,"c":54,"v":0.12},{"r":11,"c":55,"v":0.35},{"r":11,"c":56,"v":0.5},{"r":11,"c":57,"v":0.05},{"r":11,"c":58,"v":0.2},{"r":11,"c":59,"v":0.1},{"r":11,"c":60,"v":0.65},{"r":11,"c":61,"v":0.25},{"r":11,"c":62,"v":0.03},{"r":11,"c":63,"v":0.25},{"r":11,"c":64,"v":0.3},
{"r":12,"c":1,"v":0.85},{"r":12,"c":2,"v":0.6},{"r":12,"c":3,"v":0.85},{"r":12,"c":4,"v":0.55},{"r":12,"c":5,"v":0.6},{"r":12,"c":6,"v":0.65},{"r":12,"c":7,"v":0.9},{"r":12,"c":8,"v":0.9},{"r":12,"c":9,"v":0.35},{"r":12,"c":10,"v":0.75},{"r":12,"c":11,"v":0.8},{"r":12,"c":12,"v":0.85},{"r":12,"c":13,"v":0.7},{"r":12,"c":14,"v":0.55},{"r":12,"c":15,"v":0.75},{"r":12,"c":16,"v":0.6},{"r":12,"c":17,"v":0.4},{"r":12,"c":18,"v":0.85},{"r":12,"c":19,"v":0.85},{"r":12,"c":20,"v":0.75},{"r":12,"c":21,"v":0.6},{"r":12,"c":22,"v":0.8},{"r":12,"c":23,"v":0.4},{"r":12,"c":24,"v":0.8},{"r":12,"c":25,"v":0.85},{"r":12,"c":26,"v":0.6},{"r":12,"c":27,"v":0.65},{"r":12,"c":28,"v":0.65},{"r":12,"c":29,"v":0.5},{"r":12,"c":30,"v":0.75},{"r":12,"c":31,"v":0.8},{"r":12,"c":32,"v":0.8},
{"r":12,"c":33,"v":0.05},{"r":12,"c":34,"v":0.25},{"r":12,"c":35,"v":0.2},{"r":12,"c":36,"v":0.45},{"r":12,"c":37,"v":0.4},{"r":12,"c":38,"v":0.15},{"r":12,"c":39,"v":0.18},{"r":12,"c":40,"v":0.03},{"r":12,"c":41,"v":0.1},{"r":12,"c":42,"v":0.05},{"r":12,"c":43,"v":0.05},{"r":12,"c":44,"v":0.02},{"r":12,"c":45,"v":0.2},{"r":12,"c":46,"v":0.05},{"r":12,"c":47,"v":0.25},{"r":12,"c":48,"v":0.25},{"r":12,"c":49,"v":0.25},{"r":12,"c":50,"v":0.08},{"r":12,"c":51,"v":0.2},{"r":12,"c":52,"v":0.2},{"r":12,"c":53,"v":0.15},{"r":12,"c":54,"v":0.1},{"r":12,"c":55,"v":0.05},{"r":12,"c":56,"v":0.3},{"r":12,"c":57,"v":0.25},{"r":12,"c":58,"v":0},{"r":12,"c":59,"v":0.2},{"r":12,"c":60,"v":0.2},{"r":12,"c":61,"v":0.1},{"r":12,"c":62,"v":0.08},{"r":12,"c":63,"v":0.15},{"r":12,"c":64,"v":0.15},
{"r":13,"c":1,"v":0.95},{"r":13,"c":2,"v":0.6},{"r":13,"c":3,"v":0.9},{"r":13,"c":4,"v":0.6},{"r":13,"c":5,"v":0.95},{"r":13,"c":6,"v":0.55},{"r":13,"c":7,"v":0.85},{"r":13,"c":8,"v":0.95},{"r":13,"c":9,"v":0.1},{"r":13,"c":10,"v":0.8},{"r":13,"c":11,"v":0.85},{"r":13,"c":12,"v":0.9},{"r":13,"c":13,"v":0.75},{"r":13,"c":14,"v":0.45},{"r":13,"c":15,"v":0.65},{"r":13,"c":16,"v":0.6},{"r":13,"c":17,"v":0.2},{"r":13,"c":18,"v":0.9},{"r":13,"c":19,"v":0.9},{"r":13,"c":20,"v":0.65},{"r":13,"c":21,"v":0.85},{"r":13,"c":22,"v":0.85},{"r":13,"c":23,"v":0.15},{"r":13,"c":24,"v":0.9},{"r":13,"c":25,"v":0.85},{"r":13,"c":26,"v":0.45},{"r":13,"c":27,"v":0.7},{"r":13,"c":28,"v":0.55},{"r":13,"c":29,"v":0.75},{"r":13,"c":30,"v":0.75},{"r":13,"c":31,"v":0.8},{"r":13,"c":32,"v":0.85},
{"r":13,"c":33,"v":0},{"r":13,"c":34,"v":0.3},{"r":13,"c":35,"v":0.25},{"r":13,"c":36,"v":0.25},{"r":13,"c":37,"v":0.45},{"r":13,"c":38,"v":0.15},{"r":13,"c":39,"v":0.35},{"r":13,"c":40,"v":0.02},{"r":13,"c":41,"v":0.1},{"r":13,"c":42,"v":0.02},{"r":13,"c":43,"v":0.03},{"r":13,"c":44,"v":0.02},{"r":13,"c":45,"v":0.02},{"r":13,"c":46,"v":0.25},{"r":13,"c":47,"v":0.25},{"r":13,"c":48,"v":0.45},{"r":13,"c":49,"v":0.2},{"r":13,"c":50,"v":0.2},{"r":13,"c":51,"v":0.2},{"r":13,"c":52,"v":0.2},{"r":13,"c":53,"v":0.3},{"r":13,"c":54,"v":0},{"r":13,"c":55,"v":0.2},{"r":13,"c":56,"v":0.2},{"r":13,"c":57,"v":0.4},{"r":13,"c":58,"v":0.02},{"r":13,"c":59,"v":0.25},{"r":13,"c":60,"v":0.15},{"r":13,"c":61,"v":0.08},{"r":13,"c":62,"v":0.15},{"r":13,"c":63,"v":0.2},{"r":13,"c":64,"v":0.2},
{"r":14,"c":1,"v":0.95},{"r":14,"c":2,"v":0.55},{"r":14,"c":3,"v":0.2},{"r":14,"c":4,"v":0.65},{"r":14,"c":5,"v":0.6},{"r":14,"c":6,"v":0.9},{"r":14,"c":7,"v":0.55},{"r":14,"c":8,"v":0.9},{"r":14,"c":9,"v":0.55},{"r":14,"c":10,"v":0.6},{"r":14,"c":11,"v":0.55},{"r":14,"c":12,"v":0.85},{"r":14,"c":13,"v":0.9},{"r":14,"c":14,"v":0.2},{"r":14,"c":15,"v":0.15},{"r":14,"c":16,"v":0.8},{"r":14,"c":17,"v":0.45},{"r":14,"c":18,"v":0.8},{"r":14,"c":19,"v":0.8},{"r":14,"c":20,"v":0.7},{"r":14,"c":21,"v":0.9},{"r":14,"c":22,"v":0.9},{"r":14,"c":23,"v":0.6},{"r":14,"c":24,"v":0.95},{"r":14,"c":25,"v":0.95},{"r":14,"c":26,"v":0.4},{"r":14,"c":27,"v":0.75},{"r":14,"c":28,"v":0.3},{"r":14,"c":29,"v":0.9},{"r":14,"c":30,"v":0.9},{"r":14,"c":31,"v":0.8},{"r":14,"c":32,"v":0.8},
{"r":14,"c":33,"v":0.3},{"r":14,"c":34,"v":0.08},{"r":14,"c":35,"v":0.2},{"r":14,"c":36,"v":0.6},{"r":14,"c":37,"v":0.3},{"r":14,"c":38,"v":0.3},{"r":14,"c":39,"v":0.3},{"r":14,"c":40,"v":0.03},{"r":14,"c":41,"v":0.03},{"r":14,"c":42,"v":0.2},{"r":14,"c":43,"v":0.03},{"r":14,"c":44,"v":0.3},{"r":14,"c":45,"v":0.02},{"r":14,"c":46,"v":0.08},{"r":14,"c":47,"v":0.12},{"r":14,"c":48,"v":0.3},{"r":14,"c":49,"v":0.12},{"r":14,"c":50,"v":0.12},{"r":14,"c":51,"v":0.12},{"r":14,"c":52,"v":0.12},{"r":14,"c":53,"v":0.25},{"r":14,"c":54,"v":0.05},{"r":14,"c":55,"v":0.2},{"r":14,"c":56,"v":0.2},{"r":14,"c":57,"v":0.2},{"r":14,"c":58,"v":0.2},{"r":14,"c":59,"v":0.15},{"r":14,"c":60,"v":0.12},{"r":14,"c":61,"v":0.45},{"r":14,"c":62,"v":0.1},{"r":14,"c":63,"v":0.15},{"r":14,"c":64,"v":0.1},
{"r":15,"c":1,"v":0.55},{"r":15,"c":2,"v":0.55},{"r":15,"c":3,"v":0.85},{"r":15,"c":4,"v":0.65},{"r":15,"c":5,"v":0.75},{"r":15,"c":6,"v":0.7},{"r":15,"c":7,"v":0.75},{"r":15,"c":8,"v":0.75},{"r":15,"c":9,"v":0.4},{"r":15,"c":10,"v":0},{"r":15,"c":11,"v":0.85},{"r":15,"c":12,"v":0.25},{"r":15,"c":13,"v":0.75},{"r":15,"c":14,"v":0.2},{"r":15,"c":15,"v":0.75},{"r":15,"c":16,"v":0.55},{"r":15,"c":17,"v":0},{"r":15,"c":18,"v":0.9},{"r":15,"c":19,"v":0.9},{"r":15,"c":20,"v":0.05},{"r":15,"c":21,"v":0.85},{"r":15,"c":22,"v":0.2},{"r":15,"c":23,"v":0.5},{"r":15,"c":24,"v":0.7},{"r":15,"c":25,"v":0},{"r":15,"c":26,"v":0.6},{"r":15,"c":27,"v":0.6},{"r":15,"c":28,"v":0.05},{"r":15,"c":29,"v":0.6},{"r":15,"c":30,"v":0.6},{"r":15,"c":31,"v":0.85},{"r":15,"c":32,"v":0.65},
{"r":15,"c":33,"v":0.12},{"r":15,"c":34,"v":0.05},{"r":15,"c":35,"v":0.05},{"r":15,"c":36,"v":0.55},{"r":15,"c":37,"v":0.15},{"r":15,"c":38,"v":0.02},{"r":15,"c":39,"v":0.02},{"r":15,"c":40,"v":0.02},{"r":15,"c":41,"v":0.02},{"r":15,"c":42,"v":0.1},{"r":15,"c":43,"v":0.1},{"r":15,"c":44,"v":0.1},{"r":15,"c":45,"v":0.02},{"r":15,"c":46,"v":0.02},{"r":15,"c":47,"v":0.02},{"r":15,"c":48,"v":0.02},{"r":15,"c":49,"v":0.03},{"r":15,"c":50,"v":0.02},{"r":15,"c":51,"v":0.02},{"r":15,"c":52,"v":0.02},{"r":15,"c":53,"v":0.03},{"r":15,"c":54,"v":0.02},{"r":15,"c":55,"v":0.02},{"r":15,"c":56,"v":0.08},{"r":15,"c":57,"v":0.02},{"r":15,"c":58,"v":0.02},{"r":15,"c":59,"v":0.08},{"r":15,"c":60,"v":0.1},{"r":15,"c":61,"v":0.1},{"r":15,"c":62,"v":0.02},{"r":15,"c":63,"v":0.02},{"r":15,"c":64,"v":0.02}
]},"transform":[{"lookup":"r","from":{"data":{"name":"genes"},"key":"r","fields":["probe"]}}],"mark":{"type":"rect","strokeWidth":0.5},"encoding":{"x":{"field":"c","type":"ordinal","axis":null,"scale":{"paddingInner":0,"paddingOuter":0}},"y":{"field":"probe","type":"nominal","sort":["cg13495205 (AJAP1)","cg07110405 (SHANK2)","cg03146625 (HOXC4)","cg07438617","cg08089301","cg14458834","cg15565065","cg21546671 (HOXB4)","cg03774514 (FOXA2)","cg15272362","cg09137696 (MT1A)","cg09194159","cg24114154","cg04017533","cg19655456 (ZNF570)"],"scale":{"paddingInner":0,"paddingOuter":0},"axis":{"orient":"right","title":null,"ticks":false,"domain":false,"labelFontSize":14,"labelFontStyle":"italic","labelColor":"#222","labelPadding":9,"labelLimit":0}},"color":{"field":"v","type":"quantitative","scale":{"domain":[0,0.5,1],"interpolate":"rgb","range":["#ffffff","#8c8fc4","#1f3e98"]},"legend":{"title":null,"orient":"none","legendX":4,"legendY":-54,"direction":"horizontal","gradientLength":113,"gradientThickness":12,"values":[0,0.5,1],"labelFontSize":14,"labelColor":"#333","labelOffset":2,"format":"~g"}},"stroke":{"field":"v","type":"quantitative","scale":{"domain":[0,0.5,1],"interpolate":"rgb","range":["#ffffff","#8c8fc4","#1f3e98"]},"legend":null}}}
]}
]}
